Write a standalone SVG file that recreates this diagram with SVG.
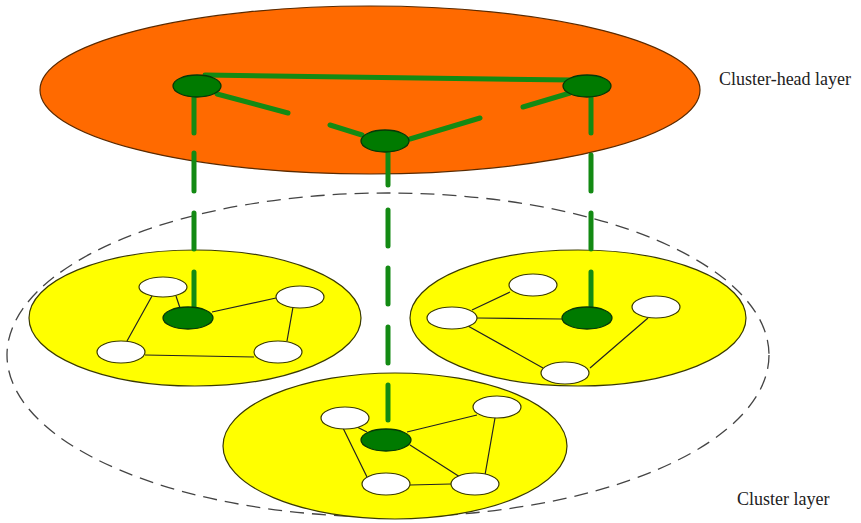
<svg xmlns="http://www.w3.org/2000/svg" width="861" height="523" viewBox="0 0 861 523">
<style>
.orange{fill:#FF6A00;stroke:#5a2a00;stroke-width:1.2}
.yellow{fill:#FFFF00;stroke:#3a3a00;stroke-width:1.2}
.outer{fill:none;stroke:#444;stroke-width:1.3;stroke-dasharray:14 8}
.head{fill:#007A00;stroke:#063806;stroke-width:1.3}
.member{fill:#FFFFFF;stroke:#3a3a00;stroke-width:1.2}
.thick{stroke:#138A13;stroke-width:5;stroke-linecap:round;fill:none}
.thin{stroke:#222;stroke-width:1.2;fill:none}
.lbl{font-family:"Liberation Serif","Times New Roman",serif;font-size:18px;fill:#222}
</style>
<rect width="861" height="523" fill="#FFFFFF"/>
<g id="cluster-layer-boundary"><ellipse class="outer" cx="388" cy="355" rx="381" ry="162"/></g>
<g id="cluster-head-layer"><ellipse class="orange" cx="370" cy="90" rx="330" ry="84"/></g>
<g id="cluster-left-area"><ellipse class="yellow" cx="195" cy="318" rx="166" ry="68"/></g>
<g id="cluster-right-area"><ellipse class="yellow" cx="578" cy="318" rx="168" ry="68"/></g>
<g id="cluster-bottom-area"><ellipse class="yellow" cx="395" cy="446" rx="172" ry="73"/></g>
<g id="connectors">
<path class="thick" d="M205 75 L572 80 M217 94 L288 113 M330 125 L362 135 M410 139 L480 118 M523 107 L570 93"/>
<path class="thick" d="M194 97 L194 133 M194 153 L194 191 M194 213 L194 249 M194 272 L194 312"/>
<path class="thick" d="M388 152 L388 185 M388 210 L388 246 M388 268 L388 304 M388 327 L388 363 M388 385 L388 420"/>
<path class="thick" d="M591 97 L591 133 M591 155 L591 191 M591 213 L591 249 M591 272 L591 308"/>
<path class="thin" d="M176 296 L180 308 M152 296 L127 341 M212 312 L276 298 M293 307 L287 341 M145 355 L254 357"/>
<path class="thin" d="M510 292 L472 310 M477 318 L562 319 M468 326 L543 368 M648 318 L590 368"/>
<path class="thin" d="M357 427 L367 432 M343 428 L367 477 M407 432 L477 415 M410 445 L460 477 M495 418 L485 475 M410 485 L451 484"/>
</g>
<g id="head-left"><ellipse class="head" cx="197" cy="86" rx="24" ry="11"/></g>
<g id="head-middle"><ellipse class="head" cx="385" cy="141" rx="24" ry="11"/></g>
<g id="head-right"><ellipse class="head" cx="587" cy="86" rx="24" ry="11"/></g>
<g id="left-head"><ellipse class="head" cx="188" cy="318" rx="25" ry="11"/></g>
<g id="left-n1"><ellipse class="member" cx="163" cy="287" rx="24" ry="10"/></g>
<g id="left-n2"><ellipse class="member" cx="300" cy="297" rx="24" ry="11"/></g>
<g id="left-n3"><ellipse class="member" cx="121" cy="352" rx="24" ry="11"/></g>
<g id="left-n4"><ellipse class="member" cx="278" cy="352" rx="24" ry="11"/></g>
<g id="right-head"><ellipse class="head" cx="587" cy="318" rx="25" ry="11"/></g>
<g id="right-n1"><ellipse class="member" cx="533" cy="285" rx="24" ry="11"/></g>
<g id="right-n2"><ellipse class="member" cx="452" cy="318" rx="25" ry="11"/></g>
<g id="right-n3"><ellipse class="member" cx="656" cy="307" rx="24" ry="11"/></g>
<g id="right-n4"><ellipse class="member" cx="565" cy="373" rx="24" ry="11"/></g>
<g id="bottom-head"><ellipse class="head" cx="386" cy="440" rx="25" ry="11"/></g>
<g id="bottom-n1"><ellipse class="member" cx="345" cy="418" rx="24" ry="11"/></g>
<g id="bottom-n2"><ellipse class="member" cx="497" cy="407" rx="24" ry="11"/></g>
<g id="bottom-n3"><ellipse class="member" cx="386" cy="484" rx="24" ry="11"/></g>
<g id="bottom-n4"><ellipse class="member" cx="475" cy="484" rx="24" ry="11"/></g>
<g id="labels">
<text class="lbl" x="719" y="85">Cluster-head layer</text>
<text class="lbl" x="737" y="505">Cluster layer</text>
</g>
</svg>
